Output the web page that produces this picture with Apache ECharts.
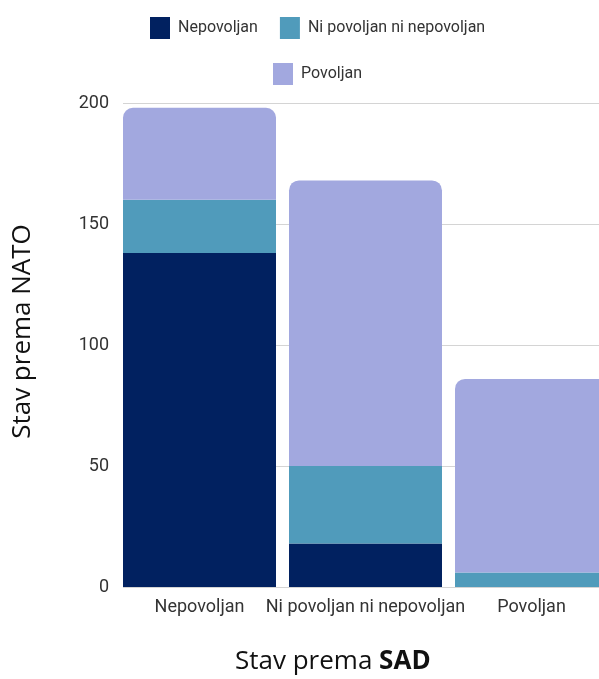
<!DOCTYPE html>
<html>
<head>
<meta charset="utf-8">
<script src="https://cdn.jsdelivr.net/npm/echarts@6/dist/echarts.min.js"></script>
<style>html,body{margin:0;padding:0;background:#fff}#c{width:599px;height:679px}</style>
</head>
<body>
<div id="c"></div>
<script>
const categories = ['Nepovoljan', 'Ni povoljan ni nepovoljan', 'Povoljan'];
const seriesNames = ['Nepovoljan', 'Ni povoljan ni nepovoljan', 'Povoljan'];
const nepovoljan = [138, 18, 0];
const niPovoljan = [22, 32, 6];
const povoljan = [38, 118, 80];
const yTicks = { min: 0, max: 200, interval: 50 };
const xTitle = 'Stav prema ';
const xTitleBold = 'SAD';
const yTitle = 'Stav prema NATO';

const colors = ['#012160', '#509bbb', '#a2a8df'];
const chart = echarts.init(document.getElementById('c'));
const TOP = 103, BOTTOM = 92;
const axisFont = 'Roboto, sans-serif';
const titleFont = '"Open Sans", sans-serif';

chart.setOption({
  animation: false,
  backgroundColor: '#fff',
  grid: [
    { left: 116.5, width: 498, top: TOP, bottom: BOTTOM, outerBoundsMode: 'none', containLabel: false },
    { left: 123, width: 492, top: TOP, bottom: BOTTOM, outerBoundsMode: 'none', containLabel: false }
  ],
  legend: [
    { data: [seriesNames[0], seriesNames[1]], left: 150, top: 17, padding: 0, itemWidth: 20, itemHeight: 22, itemGap: 22, icon: 'rect',
      textStyle: { fontSize: 16, color: '#333', fontFamily: axisFont, padding: [0, 0, 0, 3] } },
    { data: [seriesNames[2]], left: 273, top: 63, padding: 0, itemWidth: 20, itemHeight: 22, icon: 'rect',
      textStyle: { fontSize: 16, color: '#333', fontFamily: axisFont, padding: [0, 0, 0, 3] } }
  ],
  title: {
    text: '{a|' + xTitle + '}{b|' + xTitleBold + '}',
    left: 235, top: 649, padding: 0,
    textStyle: { fontWeight: 'normal', rich: {
      a: { fontSize: 26, fontFamily: titleFont, color: '#111', fontWeight: 'normal' },
      b: { fontSize: 26, fontFamily: titleFont, color: '#111', fontWeight: 'bold' }
    } }
  },
  graphic: [{
    type: 'text', x: 23, y: 331.5, rotation: Math.PI / 2,
    style: { text: yTitle, fontSize: 26, fontFamily: titleFont, fill: '#111', align: 'center', verticalAlign: 'middle' }
  }],
  xAxis: [
    { type: 'category', gridIndex: 0, data: categories, axisLine: { show: false }, axisTick: { show: false },
      axisLabel: { fontSize: 18, color: '#333', fontFamily: axisFont, margin: 11, interval: 0 } },
    { type: 'value', gridIndex: 1, min: 0, max: 1, show: false }
  ],
  yAxis: [
    { type: 'value', gridIndex: 0, min: yTicks.min, max: yTicks.max, interval: yTicks.interval,
      axisLabel: { show: false }, splitLine: { show: false }, axisLine: { show: false }, axisTick: { show: false } },
    { type: 'value', gridIndex: 1, min: yTicks.min, max: yTicks.max, interval: yTicks.interval,
      axisLine: { show: false }, axisTick: { show: false },
      axisLabel: { fontSize: 18, color: '#333', fontFamily: axisFont, margin: 14 },
      splitLine: { lineStyle: { color: '#d4d4d4', width: 1 } } }
  ],
  series: [
    { name: seriesNames[0], type: 'bar', stack: 'total', data: nepovoljan, barWidth: 153, itemStyle: { color: colors[0] } },
    { name: seriesNames[1], type: 'bar', stack: 'total', data: niPovoljan, barWidth: 153, itemStyle: { color: colors[1] } },
    { name: seriesNames[2], type: 'bar', stack: 'total', data: povoljan, barWidth: 153, itemStyle: { color: colors[2], borderRadius: [10, 10, 0, 0] } }
  ]
});
</script>
</body>
</html>
